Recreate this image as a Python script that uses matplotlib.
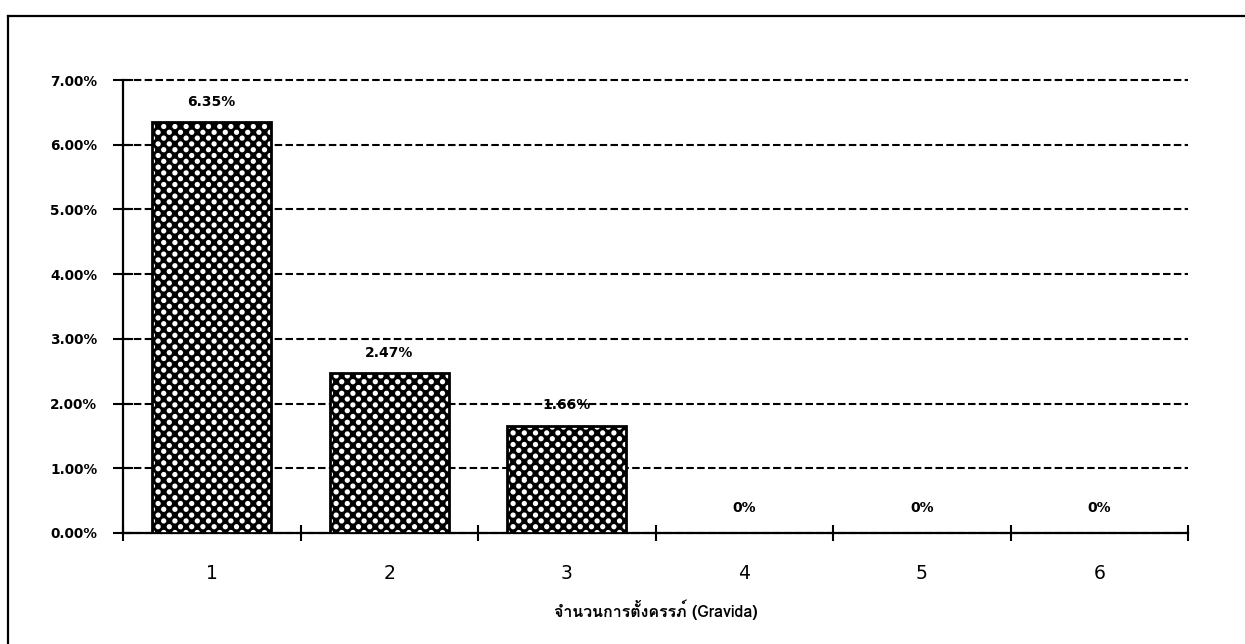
import numpy as np
import matplotlib
matplotlib.use("Agg")
import matplotlib.pyplot as plt
from matplotlib import font_manager
from matplotlib.ft2font import FT2Font
from matplotlib.lines import Line2D

# ---- data -------------------------------------------------------------
categories = ["1", "2", "3", "4", "5", "6"]
percent = [6.35, 2.47, 1.66, 0.0, 0.0, 0.0]
value_labels = ["6.35%", "2.47%", "1.66%", "0%", "0%", "0%"]
y_ticks = [0, 1, 2, 3, 4, 5, 6, 7]
y_tick_labels = ["0.00%", "1.00%", "2.00%", "3.00%", "4.00%",
                 "5.00%", "6.00%", "7.00%"]
x_title = "จำนวนการตั้งครรภ์ (Gravida)"


def find_thai_font():
    """Return FontProperties for an installed font that covers Thai."""
    probe = "จำนวนการตั้งครรภ์"
    found = []
    seen = set()
    for f in font_manager.fontManager.ttflist:
        if f.fname in seen:
            continue
        seen.add(f.fname)
        try:
            cmap = FT2Font(f.fname).get_charmap()
        except Exception:
            continue
        if all(ord(c) in cmap for c in probe):
            w = f.weight if isinstance(f.weight, int) else 400
            found.append((abs(w - 700), f.fname))
    if not found:
        return font_manager.FontProperties(family="DejaVu Sans", weight="bold")
    found.sort()
    return font_manager.FontProperties(fname=found[0][1])


def dot_texture(w, h, period=11.2, row=5.8, radius=2.6):
    """Black field with staggered white dots (checker pattern)."""
    yy, xx = np.mgrid[0:h, 0:w].astype(float)
    val = np.zeros((h, w))
    j0 = np.floor(yy / row)
    for dj in (-1, 0, 1, 2):
        j = j0 + dj
        cx = (j % 2) * period / 2.0
        dx = np.mod(xx - cx + period / 2.0, period) - period / 2.0
        dy = yy - j * row
        d = np.hypot(dx, dy)
        val = np.maximum(val, np.clip(radius + 0.5 - d, 0, 1))
    rgb = np.repeat(val[:, :, None], 3, axis=2)
    return rgb


W, H, DPI = 1245, 644, 100
fig = plt.figure(figsize=(W / DPI, H / DPI), dpi=DPI, facecolor="white")
ax = fig.add_axes([123 / W, 1 - 533 / H, (1188 - 123) / W, (533 - 80) / H])
ax.set_facecolor("white")

x = np.arange(1, len(categories) + 1)
bars = ax.bar(x, percent, width=0.67, color="black", edgecolor="black",
              linewidth=0, zorder=3)

ax.set_xlim(0.5, len(categories) + 0.5)
ax.set_ylim(y_ticks[0], y_ticks[-1])

# dotted fill inside every bar
for b in bars:
    if b.get_height() <= 0:
        continue
    bx0, by0 = b.get_x(), b.get_y()
    bx1, by1 = bx0 + b.get_width(), by0 + b.get_height()
    (px0, py0), (px1, py1) = ax.transData.transform([(bx0, by0), (bx1, by1)])
    tw, th = int(round(px1 - px0)), int(round(py1 - py0))
    tex = dot_texture(tw, th)
    im = ax.imshow(tex, extent=(bx0, bx1, by0, by1), origin="lower",
                   interpolation="nearest", aspect="auto", zorder=3.5)
    im.set_clip_path(b)
    ax.bar(b.get_x() + b.get_width() / 2, b.get_height(), width=b.get_width(),
           color="none", edgecolor="black", linewidth=2.0, zorder=4)

ax.set_xlim(0.5, len(categories) + 0.5)
ax.set_ylim(y_ticks[0], y_ticks[-1])

# y axis
ax.set_yticks(y_ticks)
ax.set_yticklabels(y_tick_labels, fontsize=9.8, fontweight="bold",
                   family="DejaVu Sans")
ax.tick_params(axis="y", direction="inout", length=14, width=1.5, pad=11.5)
ax.yaxis.grid(True, linestyle=(0, (3.6, 1.6)), color="black", linewidth=1.5)
for gl in ax.get_ygridlines():
    gl.set_clip_on(False)
ax.set_axisbelow(True)

# x axis: boundary ticks, centred category labels
ax.set_xticks(np.arange(0.5, len(categories) + 1, 1.0))
ax.set_xticklabels([])
ax.tick_params(axis="x", which="major", direction="inout", length=11,
               width=1.5)
ax.set_xticks(x, minor=True)
ax.set_xticklabels(categories, minor=True, fontsize=13.5, family="DejaVu Sans")
ax.tick_params(axis="x", which="minor", length=0, pad=22)

for side in ("top", "right"):
    ax.spines[side].set_visible(False)
for side in ("left", "bottom"):
    ax.spines[side].set_linewidth(1.6)

# value labels
for xi, v, lab in zip(x, percent, value_labels):
    off = 14.5 if v > 0 else 18
    ax.annotate(lab, (xi, v), xytext=(0, off), textcoords="offset points",
                ha="center", va="center", fontsize=10, fontweight="bold",
                family="DejaVu Sans", zorder=5)

thai_fp = find_thai_font()
thai_fp.set_size(11.5)
ax.text(0.5, (533 - 610) / (533 - 80), x_title, transform=ax.transAxes,
        ha="center", va="center", fontproperties=thai_fp)

# outer frame
fig.add_artist(Line2D([8 / W, 1.0], [1 - 16 / H, 1 - 16 / H],
                      transform=fig.transFigure, color="black", lw=1.6))
fig.add_artist(Line2D([8 / W, 8 / W], [0.0, 1 - 16 / H],
                      transform=fig.transFigure, color="black", lw=1.6))

fig.savefig("out.png", dpi=DPI, facecolor="white")
